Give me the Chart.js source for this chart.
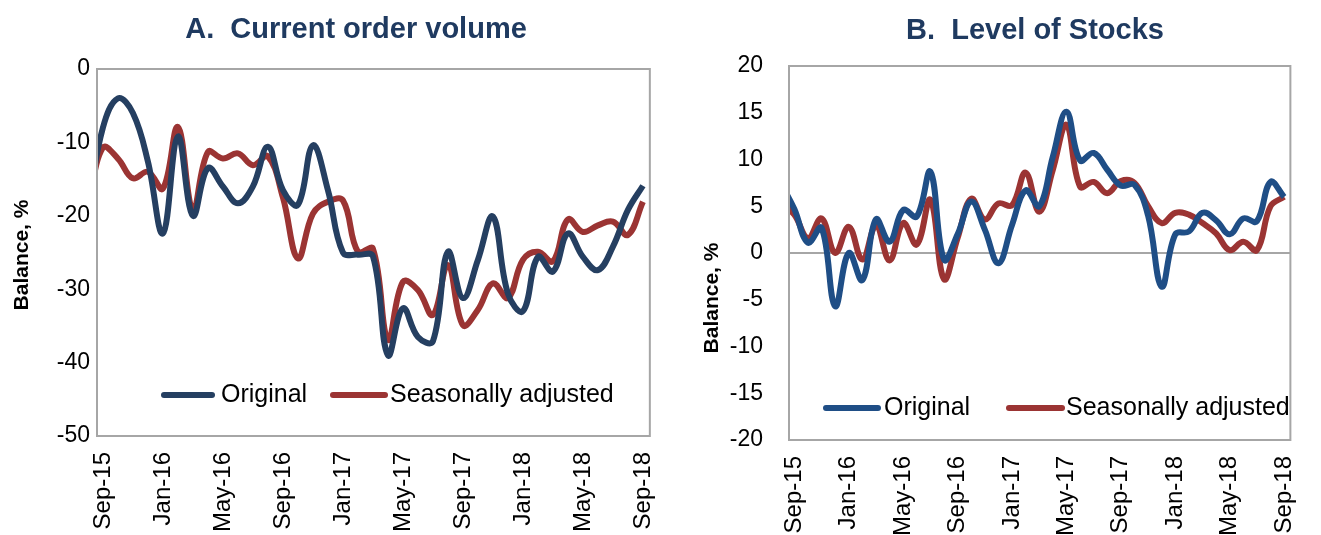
<!DOCTYPE html>
<html><head><meta charset="utf-8">
<script src="https://cdn.jsdelivr.net/npm/chart.js@4.4.1/dist/chart.umd.min.js"></script>
<style>
html,body{margin:0;padding:0;background:#fff;}
#wrap{position:relative;width:1321px;height:535px;overflow:hidden;background:#fff}
canvas{position:absolute;top:0}
</style></head><body>
<div id="wrap">
<canvas id="ca" width="680" height="535" style="left:0"></canvas>
<canvas id="cb" width="641" height="535" style="left:680px"></canvas>
</div>
<script>
// Monthly categories (Aug-15 is only partly visible at the left edge)
const months = ['Aug-15','Sep-15','Oct-15','Nov-15','Dec-15',
  'Jan-16','Feb-16','Mar-16','Apr-16','May-16','Jun-16','Jul-16','Aug-16','Sep-16','Oct-16','Nov-16','Dec-16',
  'Jan-17','Feb-17','Mar-17','Apr-17','May-17','Jun-17','Jul-17','Aug-17','Sep-17','Oct-17','Nov-17','Dec-17',
  'Jan-18','Feb-18','Mar-18','Apr-18','May-18','Jun-18','Jul-18','Aug-18','Sep-18'];
const tickLabels = ['Sep-15','Jan-16','May-16','Sep-16','Jan-17','May-17','Sep-17','Jan-18','May-18','Sep-18'];

// A. Current order volume
const orderOriginal = [-19,-8,-4.0,-6.0,-12.6,
  -22.4,-9.2,-20.0,-13.5,-16.0,-18.3,-16.0,-10.6,-16.5,-18.5,-10.4,-16.5,
  -25.0,-25.3,-25.5,-39.0,-32.6,-36.5,-37.1,-24.9,-31.2,-26.0,-20.1,-30.6,
  -33.0,-25.6,-27.6,-22.4,-25.6,-27.4,-24.2,-19.2,-15.9];
const orderAdjusted = [-19,-10.7,-12.2,-14.9,-14.0,
  -16.3,-7.9,-19.2,-11.3,-12.2,-11.5,-13.1,-11.9,-17.5,-25.8,-19.7,-18.1,
  -17.9,-24.9,-24.5,-36.9,-29.0,-30.1,-33.5,-26.7,-34.9,-32.8,-29.2,-31.2,
  -26.0,-24.9,-26.2,-20.5,-22.2,-21.3,-20.8,-22.6,-18.1];

// B. Level of Stocks
const stocksOriginal = [7.5,4.7,1.1,2.7,-5.7,
  0.0,-2.9,3.6,1.2,4.6,3.9,8.7,-0.7,2.0,5.5,2.5,-1.1,
  3.0,6.7,5.0,10.3,15.1,9.9,10.7,8.9,7.2,7.3,4.0,-3.6,
  2.0,2.3,4.3,3.5,2.0,3.7,3.4,7.6,6.0];
const stocksAdjusted = [5.4,4.1,1.6,3.7,0.0,
  2.8,-0.7,2.9,-0.8,3.2,0.9,5.7,-2.8,1.6,5.8,3.6,5.3,
  5.1,8.6,4.4,8.9,13.7,7.1,7.6,6.4,7.7,7.5,5.0,3.2,
  4.3,4.1,3.2,2.1,0.3,1.2,0.3,5.0,6.0];

const FONT = '"Liberation Sans", Arial, sans-serif';
const RED = '#9b3433';

const deco = {
  id: 'deco',
  afterDraw(chart, args, o) {
    const ctx = chart.ctx, a = chart.chartArea;
    ctx.save();
    ctx.strokeStyle = '#a6a6a6'; ctx.lineWidth = 2;
    ctx.strokeRect(a.left, a.top, a.right - a.left, a.bottom - a.top);
    ctx.fillStyle = '#1f3a60';
    ctx.font = 'bold 29px ' + FONT;
    ctx.textAlign = 'center'; ctx.textBaseline = 'middle';
    ctx.fillText(o.title, o.titleX, o.titleY);
    ctx.save();
    ctx.translate(o.yTitleX, o.yTitleY); ctx.rotate(-Math.PI / 2);
    ctx.fillStyle = '#000'; ctx.font = 'bold 21px ' + FONT;
    ctx.fillText(o.yTitle, 0, 0);
    ctx.restore();
    ctx.lineCap = 'round'; ctx.lineWidth = 6;
    o.legend.forEach((it, k) => {
      const ds = chart.data.datasets[k];
      ctx.strokeStyle = ds.borderColor;
      ctx.beginPath(); ctx.moveTo(it.x0, o.legendY); ctx.lineTo(it.x1, o.legendY); ctx.stroke();
      ctx.fillStyle = '#000'; ctx.font = '25px ' + FONT;
      ctx.textAlign = 'left'; ctx.textBaseline = 'middle';
      ctx.fillText(ds.label, it.tx, o.legendY);
    });
    ctx.restore();
  }
};

function makeChart(id, cfg) {
  const toPts = arr => arr.map((v, i) => ({x: i, y: v}));
  return new Chart(document.getElementById(id), {
    type: 'line',
    data: {
      datasets: [
        {label: 'Original', data: toPts(cfg.orig), borderColor: cfg.blue, borderWidth: 6,
         pointRadius: 0, tension: 0.4, clip: 0, fill: false},
        {label: 'Seasonally adjusted', data: toPts(cfg.adj), borderColor: RED, borderWidth: 6,
         pointRadius: 0, tension: 0.4, clip: 0, fill: false}
      ]
    },
    options: {
      responsive: false, animation: false, devicePixelRatio: 1,
      layout: {padding: {top: cfg.top, right: cfg.right, left: 0, bottom: 0}},
      plugins: {legend: {display: false}, tooltip: {enabled: false}, deco: cfg.deco},
      scales: {
        x: {
          type: 'linear', min: 0.607, max: 37.46,
          grid: {display: false}, border: {display: false},
          afterBuildTicks: s => { s.ticks = tickLabels.map(m => ({value: months.indexOf(m)})); },
          afterFit: s => { s.height = cfg.xh; },
          ticks: {autoSkip: false, maxRotation: 90, minRotation: 90, padding: 8, color: '#000',
                  font: {family: FONT, size: 24}, callback: v => months[v]}
        },
        y: {
          min: cfg.min, max: cfg.max,
          afterFit: s => { s.width = cfg.yw; },
          border: {display: false},
          grid: {drawTicks: false, lineWidth: 2,
                 color: c => (cfg.zero && c.tick && c.tick.value === 0) ? '#a6a6a6' : 'rgba(0,0,0,0)'},
          ticks: {stepSize: cfg.step, padding: cfg.ypad, color: '#000', font: {family: FONT, size: 23}}
        }
      }
    },
    plugins: [deco]
  });
}

makeChart('ca', {
  orig: orderOriginal, adj: orderAdjusted, blue: '#253f61',
  min: -50, max: 0, step: 10, top: 69, right: 21, xh: 99, yw: 97, ypad: 7, zero: false,
  deco: {title: 'A.  Current order volume', titleX: 356, titleY: 30,
         yTitle: 'Balance, %', yTitleX: 22, yTitleY: 255, legendY: 395,
         legend: [{x0: 164, x1: 212, tx: 221}, {x0: 333, x1: 385, tx: 390}]}
});
makeChart('cb', {
  orig: stocksOriginal, adj: stocksAdjusted, blue: '#1f4e86',
  min: -20, max: 20, step: 5, top: 66, right: 6, xh: 95, yw: 109, ypad: 26, zero: true,
  deco: {title: 'B.  Level of Stocks', titleX: 355, titleY: 31,
         yTitle: 'Balance, %', yTitleX: 32, yTitleY: 298, legendY: 408,
         legend: [{x0: 146, x1: 198, tx: 204}, {x0: 329, x1: 382, tx: 386}]}
});
</script>
</body></html>
